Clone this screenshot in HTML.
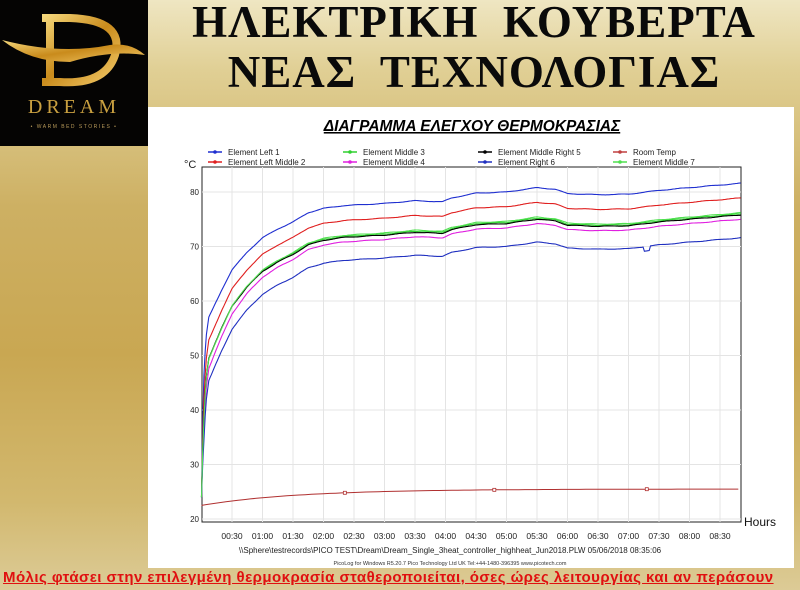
<!DOCTYPE html>
<html><head><meta charset="utf-8"><style>
html,body{margin:0;padding:0}
body{width:800px;height:590px;position:relative;overflow:hidden;font-family:"Liberation Sans",sans-serif;
background:linear-gradient(180deg,#efe6c2 0%,#e0cf94 12%,#cdb063 35%,#c9a752 60%,#d2b86e 85%,#dccb96 100%);}
#logo{position:absolute;left:0;top:0;width:148px;height:146px;background:#050403;}
#panel{position:absolute;left:148px;top:107px;width:646px;height:461px;background:#fff;}
.t{position:absolute;left:148px;width:652px;text-align:center;font-family:"Liberation Serif",serif;font-weight:bold;font-size:45px;color:#0a0a0a;letter-spacing:1px;white-space:pre}
#foot{position:absolute;left:3px;top:569px;color:#e01010;font-size:15px;letter-spacing:0.45px;font-weight:bold;text-decoration:underline;white-space:nowrap;font-family:"Liberation Sans","DejaVu Sans",sans-serif}
</style></head><body>
<div id="logo">
<svg width="148" height="146">
<defs><linearGradient id="g" x1="0" y1="0" x2="1" y2="1"><stop offset="0" stop-color="#f5d77a"/><stop offset="0.5" stop-color="#c98b1c"/><stop offset="1" stop-color="#f2c968"/></linearGradient></defs>
<path d="M50 18 L50 80 M42 18 L70 18 Q125 20 115 55 Q105 85 60 82 L42 82" stroke="url(#g)" stroke-width="8" fill="none"/>
<path d="M2 40 Q60 55 110 45 Q130 42 145 55 Q110 50 70 62 Q30 62 2 40Z" fill="url(#g)"/>
<text x="74" y="113" text-anchor="middle" font-family="Liberation Serif,serif" font-size="20" fill="#c9a040" letter-spacing="4">DREAM</text>
<text x="74" y="128" text-anchor="middle" font-family="Liberation Sans,sans-serif" font-size="5" fill="#b89a5a" letter-spacing="1.5">• WARM BED STORIES •</text>
</svg></div>
<div class="t" style="top:-4px">ΗΛΕΚΤΡΙΚΗ  ΚΟΥΒΕΡΤΑ</div>
<div class="t" style="top:46px">ΝΕΑΣ  ΤΕΧΝΟΛΟΓΙΑΣ</div>
<div id="panel"></div>
<svg id="ch" width="800" height="590" style="position:absolute;left:0;top:0" font-family="Liberation Sans,sans-serif"></svg>
<div id="foot">Μόλις φτάσει στην επιλεγμένη θερμοκρασία σταθεροποιείται, όσες ώρες λειτουργίας και αν περάσουν</div>
<script>
var s='';
s+='<text x="472" y="131" text-anchor="middle" font-size="15.5" font-weight="bold" font-style="italic" text-decoration="underline" fill="#000">ΔΙΑΓΡΑΜΜΑ  ΕΛΕΓΧΟΥ  ΘΕΡΜΟΚΡΑΣΙΑΣ</text>';
var X0=202,X1=741,YT=167,YB=522;
function X(t){return 201.5+t*61;}
function Y(v){return 192+(80-v)*5.45;}
s+='<rect x="'+X0+'" y="'+YT+'" width="'+(X1-X0)+'" height="'+(YB-YT)+'" fill="#fff" stroke="#222" stroke-width="1"/>';
for(var i=1;i<=17;i++){var x=X(i*0.5);if(x<X1)s+='<line x1="'+x+'" y1="'+YT+'" x2="'+x+'" y2="'+YB+'" stroke="#e4e4e4"/>';
 if(x<X1-5){var h=Math.floor(i/2),m=i%2?'30':'00';s+='<text x="'+x+'" y="539" font-size="8.5" text-anchor="middle" fill="#222">0'+h+':'+m+'</text>';}}
for(var v=20;v<=80;v+=10){var y=Y(v);s+='<line x1="'+X0+'" y1="'+y+'" x2="'+X1+'" y2="'+y+'" stroke="#e4e4e4"/><text x="199" y="'+(y+3)+'" font-size="8" text-anchor="end" fill="#222">'+v+'</text>';}
s+='<text x="184" y="168" font-size="11" fill="#222">°C</text>';
s+='<text x="744" y="526" font-size="12" fill="#111">Hours</text>';
s+='<text x="450" y="553" font-size="8" text-anchor="middle" fill="#222">\\\\Sphere\\testrecords\\PICO TEST\\Dream\\Dream_Single_3heat_controller_highheat_Jun2018.PLW   05/06/2018  08:35:06</text>';
s+='<text x="450" y="565" font-size="5.5" text-anchor="middle" fill="#333">PicoLog for Windows R5.20.7  Pico Technology Ltd UK  Tel:+44-1480-396395  www.picotech.com</text>';
var kp=[[0,24],[0.03,44],[0.07,53],[0.12,57],[0.33,62],[0.5,65.7],[0.75,69],[1,71.6],[1.25,73.2],[1.5,74.5],[1.75,76.2],[2,77],[2.33,77.5],[3,77.9],[3.5,78.4],[3.95,78.2],[4.1,78.9],[4.5,79.8],[5,80],[5.5,80.8],[5.8,80.5],[6,79.7],[6.5,79.5],[7,79.6],[7.5,80.3],[8,80.8],[8.84,81.6]];
function base(t){for(var i=1;i<kp.length;i++){if(t<=kp[i][0]){var a=kp[i-1],b=kp[i];return a[1]+(b[1]-a[1])*(t-a[0])/(b[0]-a[0]);}}return kp[kp.length-1][1];}
var ser=[['#1f2fd0',0,0],['#e02020',-4.5,-2.7],['#30d030',-8,-5.6],['#000',-7.8,-5.8],['#e020e0',-10,-6.6],['#2030c0',-12,-10],['#50e050',-8.2,-5.4]];
ser.forEach(function(c,k){var p='';for(var t=0;t<=8.84;t+=0.02){var b=base(t);var d=c[2]+(c[1]-c[2])*Math.exp(-t/0.6);var f=Math.min(1,(b-24)/22);var v=b+d*f+Math.sin(t*13+k)*0.05;if(k==5&&Math.abs(t-7.3)<0.05)v-=0.8;p+=(p?'L':'M')+X(t).toFixed(1)+' '+Y(v).toFixed(1);}
 s+='<path d="'+p+'" fill="none" stroke="'+c[0]+'" stroke-width="1.1"/>';});
var rp='';for(var t=0;t<=8.84;t+=0.1){var v=22.5+3*(1-Math.exp(-t/1.6));rp+=(rp?'L':'M')+X(t).toFixed(1)+' '+Y(v).toFixed(1);}
s+='<path d="'+rp+'" fill="none" stroke="#b03030" stroke-width="1"/>';
[[2.35],[4.8],[7.3]].forEach(function(a){var t=a[0],v=22.5+3*(1-Math.exp(-t/1.6));s+='<rect x="'+(X(t)-1.5)+'" y="'+(Y(v)-1.5)+'" width="3" height="3" fill="#fff" stroke="#b03030" stroke-width="0.8"/>';});
var leg=[['Element Left 1','#1f2fd0',208,152],['Element Left Middle 2','#e02020',208,162],['Element Middle 3','#30d030',343,152],['Element Middle 4','#e020e0',343,162],['Element Middle Right 5','#000',478,152],['Element Right 6','#2030c0',478,162],['Room Temp','#c04040',613,152],['Element Middle 7','#50e050',613,162]];
leg.forEach(function(l){s+='<line x1="'+l[2]+'" y1="'+l[3]+'" x2="'+(l[2]+14)+'" y2="'+l[3]+'" stroke="'+l[1]+'" stroke-width="1.5"/><circle cx="'+(l[2]+7)+'" cy="'+l[3]+'" r="1.8" fill="'+l[1]+'"/><text x="'+(l[2]+20)+'" y="'+(l[3]+3)+'" font-size="8" fill="#222">'+l[0]+'</text>';});
document.getElementById('ch').innerHTML=s;
</script>
</body></html>
